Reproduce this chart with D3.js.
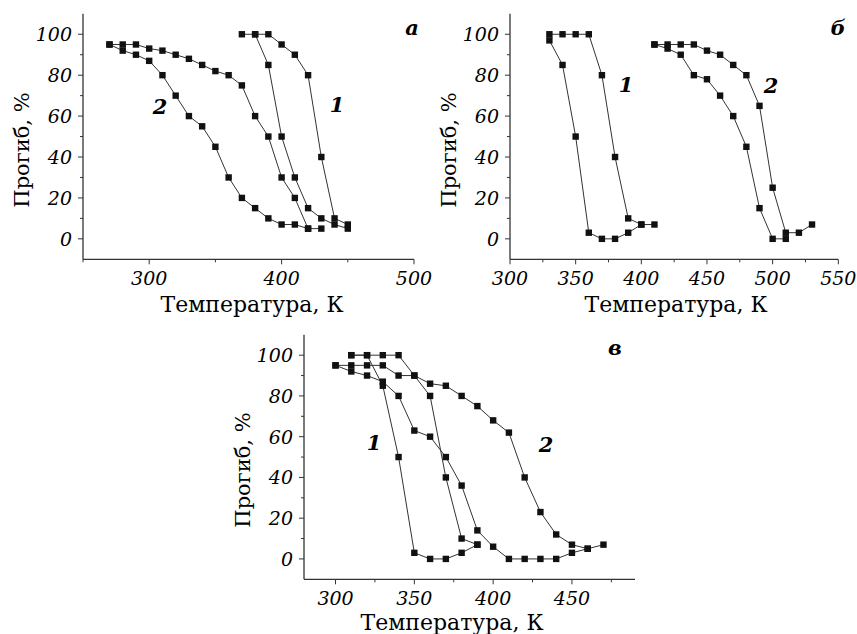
<!DOCTYPE html>
<html>
<head>
<meta charset="utf-8">
<script src="https://cdn.jsdelivr.net/npm/d3@7"></script>
<style>
  body { margin: 0; background: #fff; }
  svg { display: block; }
</style>
</head>
<body>
<svg id="chart" width="857" height="634"></svg>
<script>
// --- панель а ---
var aS1hT = [370, 380, 390, 400, 410, 420, 430, 440, 450];
var aS1hY = [100, 100, 100, 95, 90, 80, 40, 10, 7];
var aS1cT = [380, 390, 400, 410, 420, 430, 440, 450];
var aS1cY = [100, 85, 50, 30, 15, 10, 7, 5];
var aS2hT = [270, 280, 290, 300, 310, 320, 330, 340, 350, 360, 370, 380, 390, 400, 410, 420];
var aS2hY = [95, 95, 95, 93, 92, 90, 88, 85, 82, 80, 75, 60, 50, 30, 20, 5];
var aS2cT = [270, 280, 290, 300, 310, 320, 330, 340, 350, 360, 370, 380, 390, 400, 410, 420, 430];
var aS2cY = [95, 92, 90, 87, 80, 70, 60, 55, 45, 30, 20, 15, 10, 7, 7, 5, 5];

// --- панель б ---
var bS1hT = [330, 340, 350, 360, 370, 380, 390, 400, 410];
var bS1hY = [100, 100, 100, 100, 80, 40, 10, 7, 7];
var bS1cT = [330, 340, 350, 360, 370, 380, 390, 400];
var bS1cY = [97, 85, 50, 3, 0, 0, 3, 7];
var bS2hT = [410, 420, 430, 440, 450, 460, 470, 480, 490, 500, 510, 520, 530];
var bS2hY = [95, 95, 95, 95, 92, 90, 85, 80, 65, 25, 3, 3, 7];
var bS2cT = [410, 420, 430, 440, 450, 460, 470, 480, 490, 500, 510];
var bS2cY = [95, 93, 90, 80, 78, 70, 60, 45, 15, 0, 0];

// --- панель в ---
var cS1hT = [310, 320, 330, 340, 350, 360, 370, 380, 390];
var cS1hY = [100, 100, 100, 100, 90, 80, 40, 10, 7];
var cS1cT = [310, 320, 330, 340, 350, 360, 370, 380, 390];
var cS1cY = [100, 100, 85, 50, 3, 0, 0, 3, 7];
var cS2hT = [300, 310, 320, 330, 340, 350, 360, 370, 380, 390, 400, 410, 420, 430, 440, 450, 460, 470];
var cS2hY = [95, 95, 95, 95, 90, 90, 86, 85, 80, 75, 68, 62, 40, 23, 12, 7, 5, 7];
var cS2cT = [300, 310, 320, 330, 340, 350, 360, 370, 380, 390, 400, 410, 420, 430, 440, 450, 460];
var cS2cY = [95, 92, 90, 87, 80, 63, 60, 50, 36, 14, 6, 0, 0, 0, 0, 3, 5];

var yTickVals = [0, 20, 40, 60, 80, 100];
var yMinorVals = [10, 30, 50, 70, 90];

var serif = "'DejaVu Serif', 'Liberation Serif', serif";

var pair = function(ts, ys) {
  return ts.map(function(t, i) { return [t, ys[i]]; });
};

var panels = [
  {
    letter: 'а', letterPos: [412, 35],
    xRange: [83, 414], yRange: [259.3, 13.8],
    xDomain: [250, 500], xTicks: d3.range(250, 501, 50), xLabels: [300, 400, 500],
    yLabelPos: [29, 150], xTitlePos: [252, 312],
    series: [pair(aS1hT, aS1hY), pair(aS1cT, aS1cY), pair(aS2hT, aS2hY), pair(aS2cT, aS2cY)],
    notes: [{ t: '1', x: 337, y: 112 }, { t: '2', x: 160, y: 114 }]
  },
  {
    letter: 'б', letterPos: [838, 35],
    xRange: [510, 838.3], yRange: [259.3, 13.8],
    xDomain: [300, 550], xTicks: d3.range(300, 551, 25), xLabels: [300, 350, 400, 450, 500, 550],
    yLabelPos: [456, 150], xTitlePos: [676, 312],
    series: [pair(bS1hT, bS1hY), pair(bS1cT, bS1cY), pair(bS2hT, bS2hY), pair(bS2cT, bS2cY)],
    notes: [{ t: '1', x: 626, y: 92 }, { t: '2', x: 771, y: 93 }]
  },
  {
    letter: 'в', letterPos: [615, 355],
    xRange: [304, 635], yRange: [579.3, 334.8],
    xDomain: [280, 490], xTicks: d3.range(300, 476, 25), xLabels: [300, 350, 400, 450],
    yLabelPos: [250, 470], xTitlePos: [452, 630],
    series: [pair(cS1hT, cS1hY), pair(cS1cT, cS1cY), pair(cS2hT, cS2hY), pair(cS2cT, cS2cY)],
    notes: [{ t: '1', x: 374, y: 450 }, { t: '2', x: 546, y: 452 }]
  }
];

var svg = d3.select('#chart');

panels.forEach(function(p) {
  var x = d3.scaleLinear().domain(p.xDomain).range(p.xRange);
  var y = d3.scaleLinear().domain([-10, 110]).range(p.yRange);
  var g = svg.append('g');

  // axes
  g.append('line')
    .attr('x1', p.xRange[0]).attr('x2', p.xRange[1])
    .attr('y1', p.yRange[0]).attr('y2', p.yRange[0])
    .attr('stroke', '#333').attr('stroke-width', 1.3);
  g.append('line')
    .attr('x1', p.xRange[0]).attr('x2', p.xRange[0])
    .attr('y1', p.yRange[0]).attr('y2', p.yRange[1])
    .attr('stroke', '#333').attr('stroke-width', 1.3);

  // x ticks
  g.selectAll('.xt').data(p.xTicks).enter().append('line')
    .attr('x1', function(d) { return x(d); })
    .attr('x2', function(d) { return x(d); })
    .attr('y1', p.yRange[0])
    .attr('y2', function(d) { return p.yRange[0] + (p.xLabels.indexOf(d) >= 0 ? 5 : 3); })
    .attr('stroke', '#333').attr('stroke-width', 1);

  g.selectAll('.xl').data(p.xLabels).enter().append('text')
    .attr('x', function(d) { return x(d); })
    .attr('y', p.yRange[0] + 25.7)
    .attr('text-anchor', 'middle')
    .attr('font-family', serif).attr('font-style', 'italic').attr('font-size', '19px')
    .text(function(d) { return d; });

  // y ticks
  g.selectAll('.yt').data(yTickVals.concat(yMinorVals)).enter().append('line')
    .attr('x1', p.xRange[0])
    .attr('x2', function(d) { return p.xRange[0] - (yTickVals.indexOf(d) >= 0 ? 5 : 3); })
    .attr('y1', function(d) { return y(d); })
    .attr('y2', function(d) { return y(d); })
    .attr('stroke', '#333').attr('stroke-width', 1);

  g.selectAll('.yl').data(yTickVals).enter().append('text')
    .attr('x', p.xRange[0] - 11)
    .attr('y', function(d) { return y(d) + 7; })
    .attr('text-anchor', 'end')
    .attr('font-family', serif).attr('font-style', 'italic').attr('font-size', '19px')
    .text(function(d) { return d; });

  // titles
  g.append('text')
    .attr('transform', 'translate(' + p.yLabelPos[0] + ',' + p.yLabelPos[1] + ') rotate(-90)')
    .attr('text-anchor', 'middle')
    .attr('font-family', serif).attr('font-size', '21px')
    .text('Прогиб, %');
  g.append('text')
    .attr('x', p.xTitlePos[0]).attr('y', p.xTitlePos[1])
    .attr('text-anchor', 'middle')
    .attr('font-family', serif).attr('font-size', '22px')
    .text('Температура, К');

  g.append('text')
    .attr('x', p.letterPos[0]).attr('y', p.letterPos[1])
    .attr('text-anchor', 'middle')
    .attr('font-family', serif).attr('font-style', 'italic').attr('font-weight', 'bold')
    .attr('font-size', '21px')
    .text(p.letter);

  g.selectAll('.note').data(p.notes).enter().append('text')
    .attr('x', function(d) { return d.x; })
    .attr('y', function(d) { return d.y; })
    .attr('text-anchor', 'middle')
    .attr('font-family', serif).attr('font-style', 'italic').attr('font-weight', 'bold')
    .attr('font-size', '21px')
    .text(function(d) { return d.t; });

  // curves
  var line = d3.line()
    .x(function(d) { return x(d[0]); })
    .y(function(d) { return y(d[1]); });

  g.selectAll('.curve').data(p.series).enter().append('path')
    .attr('d', line)
    .attr('fill', 'none')
    .attr('stroke', '#333')
    .attr('stroke-width', 1);

  var pts = [];
  p.series.forEach(function(s) { pts = pts.concat(s); });

  g.selectAll('.pt').data(pts).enter().append('rect')
    .attr('x', function(d) { return x(d[0]) - 3.2; })
    .attr('y', function(d) { return y(d[1]) - 3.2; })
    .attr('width', 6.4).attr('height', 6.4)
    .attr('fill', '#111');
});
</script>
</body>
</html>
